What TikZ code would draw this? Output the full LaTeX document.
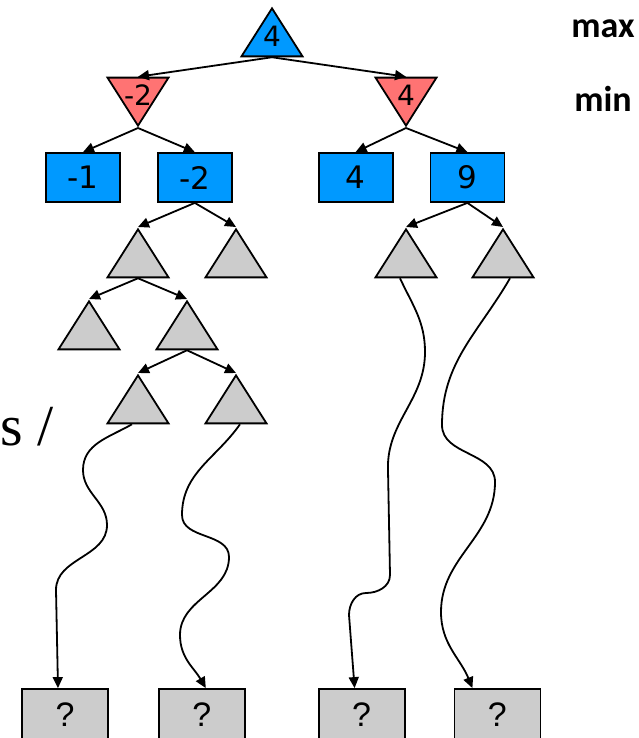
\documentclass[tikz,border=0pt]{standalone}
\usepackage{fontspec}
\newfontfamily\valuefont{DejaVu Sans}
\newfontfamily\turnfont{Carlito}
\newfontfamily\leaffont{Liberation Sans}
\newfontfamily\slidefont{Liberation Serif}
\usetikzlibrary{shapes.geometric,arrows.meta,positioning}
\definecolor{maxblue}{RGB}{0,153,255}
\definecolor{minred}{RGB}{255,115,115}
\definecolor{unknowngray}{RGB}{204,204,204}
\tikzstyle{game tree}=[
    x=1pt,y=1pt,line width=1.8pt,
    >={Triangle[length=11pt,width=10pt]},
    every node/.style={inner sep=0pt},
    tri/.style={
        isosceles triangle, isosceles triangle stretches, draw,
        minimum width=61pt, minimum height=48pt,
    },
    maxtri/.style={tri, shape border rotate=90, fill=##1},
    mintri/.style={tri, shape border rotate=270, fill=##1},
    subtree/.style={tri, shape border rotate=90, fill=unknowngray},
    maxvalue/.style={anchor=base, yshift=11pt, font=\valuefont\fontsize{28}{30}\selectfont},
    minvalue/.style={anchor=base, yshift=-29pt, font=\valuefont\fontsize{28}{30}\selectfont},
    valbox/.style={
        rectangle, draw, fill=maxblue,
        minimum width=74pt, minimum height=49pt,
        font=\valuefont\fontsize{31}{34}\selectfont,
    },
    leafbox/.style={
        rectangle, draw, fill=unknowngray,
        minimum width=86pt, minimum height=52pt,
        font=\leaffont\fontsize{34}{36}\selectfont,
    },
    turnlabel/.style={font=\turnfont\bfseries\fontsize{36}{40}\selectfont},
]

\begin{document}
\begin{tikzpicture}[game tree]
        \useasboundingbox (0,0) rectangle (639,-738);
        \clip (0,0) rectangle (639,-738);

        % max and min levels
        \node[maxtri=maxblue, anchor=north, label={[maxvalue]south:4}] (root) at (272,-6) {};
        \node[mintri=minred, anchor=south, label={[minvalue]north:-2}] (minL) at (138,-128) {};
        \node[mintri=minred, anchor=south, label={[minvalue]north:4}] (minR) at (406,-128) {};

        \node[valbox] (v1) at (83,-177.5) {-1};
        \node[valbox, right=36pt of v1] (v2) {-2};
        \node[valbox, right=85pt of v2] (v3) {4};
        \node[valbox, right=36pt of v3] (v4) {9};

        % unexplored subtrees
        \node[subtree, anchor=north] (s1) at (138,-227) {};
        \node[subtree, anchor=north] (s2) at (236,-227) {};
        \node[subtree, anchor=north] (s3) at (89,-299) {};
        \node[subtree, anchor=north] (s4) at (187,-299) {};
        \node[subtree, anchor=north] (s5) at (138,-373) {};
        \node[subtree, anchor=north] (s6) at (236,-373) {};
        \node[subtree, anchor=north] (s7) at (406,-227) {};
        \node[subtree, anchor=north] (s8) at (503,-227) {};

        \node[leafbox] (q1) at (65,-715) {?};
        \node[leafbox, right=49pt of q1] (q2) {?};
        \node[leafbox, right=72pt of q2] (q3) {?};
        \node[leafbox, right=48pt of q3] (q4) {?};

        \node[turnlabel, anchor=base] (maxlabel) at (603,-38) {max};
        \node[turnlabel, anchor=base] (minlabel) at (603,-112) {min};
        \node[anchor=base west, font=\slidefont\fontsize{58}{62}\selectfont] (cut) at (0,-445) {s /};

        \path[->]
            (root.south) edge (minL.north)
            (root.south) edge (minR.north)
            (minL.south) edge (v1.north)
            (minL.south) edge (v2.north)
            (minR.south) edge (v3.north)
            (minR.south) edge (v4.north)
            (v2.south) edge (s1.north)
            (v2.south) edge (s2.north)
            (s1.south) edge (s3.north)
            (s1.south) edge (s4.north)
            (s4.south) edge (s5.north)
            (s4.south) edge (s6.north)
            (v4.south) edge (s7.north)
            (v4.south) edge (s8.north)
        ;

        % long paths down to the unknown leaves
        \draw[->] ([xshift=-6pt]s5.south) to[out=-150,in=90] (83,-470)
            to[out=-90,in=90] (107,-525) to[out=-90,in=90] (56,-590)
            -- ([xshift=-7pt]q1.north);
        \draw[->] ([xshift=4pt]s6.south) to[out=-125,in=90] (182,-515)
            to[out=-90,in=90] (229,-557) to[out=-90,in=90] (180,-635)
            to[out=-90,in=120] ([xshift=4pt]q2.north);
        \draw[->] ([xshift=-6pt]s7.south) to[out=-65,in=90] (425,-352)
            to[out=-90,in=92] (388,-470) -- (390,-575)
            to[out=-90,in=0] (366,-593) to[out=180,in=90] (349,-615)
            -- ([xshift=-7pt]q3.north);
        \draw[->] ([xshift=7pt]s8.south) to[out=-120,in=90] (442,-425)
            to[out=-90,in=90] (495,-482) to[out=-90,in=90] (441,-612)
            to[out=-90,in=112] ([xshift=-25pt]q4.north);
    \end{tikzpicture}
\end{document}
